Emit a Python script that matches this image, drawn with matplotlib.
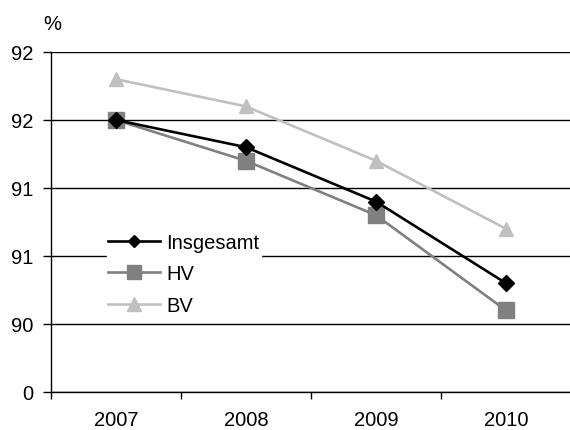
import matplotlib
matplotlib.use("Agg")
import matplotlib.pyplot as plt
from matplotlib.ticker import FixedLocator

plt.rcParams['font.family'] = ['Liberation Sans', 'DejaVu Sans']

years = ["2007", "2008", "2009", "2010"]
insgesamt = [92.0, 91.8, 91.4, 90.8]
hv = [92.0, 91.7, 91.3, 90.6]
bv = [92.3, 92.1, 91.7, 91.2]
ytick_vals = [90.0, 90.5, 91.0, 91.5, 92.0, 92.5]
ytick_labels = ["0", "90", "91", "91", "92", "92"]

W, H = 570, 431
fig = plt.figure(figsize=(W / 100, H / 100), dpi=100)
ax = fig.add_axes([51 / W, 1 - 393 / H, 520 / W, 340 / H])

x = list(range(len(years)))
ax.plot(x, insgesamt, color='black', lw=1.9, marker='D', markersize=8, label='Insgesamt', zorder=4)
ax.plot(x, hv, color='#808080', lw=1.9, marker='s', markersize=11, label='HV', zorder=3)
ax.plot(x, bv, color='#C0C0C0', lw=1.9, marker='^', markersize=10, label='BV', zorder=2)

ax.set_xlim(-0.5, 3.5)
ax.set_ylim(90.0, 92.5)
ax.yaxis.set_major_locator(FixedLocator(ytick_vals))
ax.set_yticklabels(ytick_labels)
ax.set_xticks(x)
ax.set_xticklabels(years)
ax.xaxis.set_minor_locator(FixedLocator([-0.5, 0.5, 1.5, 2.5, 3.5]))
ax.tick_params(axis='x', which='major', length=0, labelsize=14.5, pad=13)
ax.tick_params(axis='x', which='minor', length=5, width=1, direction='out')
ax.tick_params(axis='y', length=6, width=1, labelsize=14.5, pad=7)
ax.grid(axis='y', color='black', lw=1)
ax.set_axisbelow(True)
for s in ['top', 'right']:
    ax.spines[s].set_visible(False)
ax.spines['left'].set_linewidth(1)
ax.spines['bottom'].set_linewidth(1)

fig.text(43 / W, 1 - 25 / H, '%', fontsize=14.5, ha='left', va='center')

leg = ax.legend(loc='upper left', frameon=True,
                fontsize=14.5, handlelength=2.6, handletextpad=0.3, labelspacing=0.62,
                borderpad=0.05, borderaxespad=0, fancybox=False)
leg.set_bbox_to_anchor((107 / W, 1 - 233 / H), transform=fig.transFigure)
leg.get_frame().set_edgecolor('white')
leg.get_frame().set_facecolor('white')
leg.get_frame().set_alpha(1)
hs = leg.legend_handles
hs[0].set_markersize(6.5)
hs[1].set_markersize(10)
hs[2].set_markersize(10)

fig.savefig('out.png', dpi=100)
